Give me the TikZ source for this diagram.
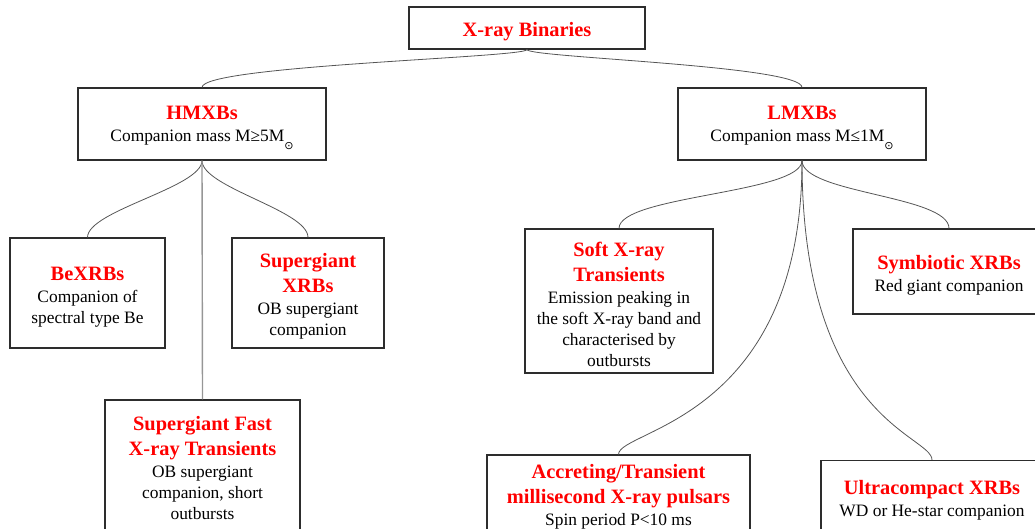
\documentclass[tikz,border=0pt]{standalone}
\usepackage{fontspec}
\setmainfont{Liberation Serif}
\newfontfamily\symfont{DejaVu Sans}
\definecolor{hred}{RGB}{255,0,0}
\definecolor{boxline}{RGB}{45,45,45}
\definecolor{curveline}{RGB}{85,85,85}
\definecolor{stemline}{RGB}{150,150,150}
\tikzset{
  box/.style={draw=boxline, line width=1.1pt, fill=white, inner sep=0pt, align=center,
    font=\fontsize{17.4}{21}\selectfont},
  link/.style={draw=curveline, line width=0.8pt},
  stem/.style={draw=stemline, line width=1.4pt},
}
\newcommand{\hd}[1]{{\fontsize{20.4}{25}\selectfont\bfseries\color{hred}#1}}
\newcommand{\tp}{\rule{0pt}{21.5pt}}
\newcommand{\msun}{\raisebox{-7.5pt}{\symfont\fontsize{11}{11}\selectfont ⊙}}
\begin{document}
\begin{tikzpicture}[x=1pt,y=-1pt]
\useasboundingbox (0,0) rectangle (1035,529);
\clip (0,0) rectangle (1035,529);

% nodes
\node[box, minimum width=236pt, minimum height=42pt] (root) at (527,28) {\tp\hd{X-ray Binaries}};
\node[box, minimum width=248pt, minimum height=72pt] (hm) at (202,124) {\tp\hd{HMXBs}\\[1pt]Companion mass M≥5M\msun};
\node[box, minimum width=248pt, minimum height=72pt] (lm) at (802,124) {\tp\hd{LMXBs}\\[1pt]Companion mass M≤1M\msun};

\node[box, minimum width=155pt, minimum height=110pt] (be) at (87.5,293) {\tp\hd{BeXRBs}\\[1pt]Companion of\\spectral type Be};
\node[box, minimum width=152pt, minimum height=110pt] (sg) at (308,293) {\tp\hd{Supergiant}\\[4pt]\hd{XRBs}\\[1pt]OB supergiant\\companion};
\node[box, minimum width=195pt, minimum height=136pt] (sfxt) at (202.5,468) {\hd{Supergiant Fast}\\[4pt]\hd{X-ray Transients}\\[1pt]OB supergiant\\companion, short\\outbursts};

\node[box, minimum width=188pt, minimum height=144pt] (soft) at (619,301) {\tp\hd{Soft X-ray}\\[4pt]\hd{Transients}\\[1pt]Emission peaking in\\the soft X-ray band and\\characterised by\\outbursts};
\node[box, minimum width=192pt, minimum height=85pt] (sym) at (949,271.5) {\tp\hd{Symbiotic XRBs}\\[1pt]Red giant companion};
\node[box, minimum width=263pt, minimum height=84pt] (acc) at (618.5,497) {\hd{Accreting/Transient}\\[4pt]\hd{millisecond X-ray pulsars}\\[1pt]Spin period P<10 ms};
\node[box, minimum width=222pt, minimum height=80pt] (uc) at (932,500.5) {\hd{Ultracompact XRBs}\\[1pt]WD or He-star companion};

% connectors
\draw[link] (root.south) .. controls +(0,8) and +(0,-22) .. (hm.north);
\draw[link] (root.south) .. controls +(0,8) and +(0,-22) .. (lm.north);

\draw[link] (hm.south) .. controls +(0,27) and +(0,-27) .. (be.north);
\draw[link] (hm.south) .. controls +(0,27) and +(0,-27) .. (sg.north);
\draw[stem] (hm.south) -- (sfxt.north);

\draw[link] (lm.south) .. controls +(0,33) and +(0,-33) .. (soft.north);
\draw[link] (lm.south) .. controls +(0,33) and +(0,-33) .. (sym.north);
\draw[link] (lm.south) .. controls +(0,260) and +(0,-25) .. (acc.north);
\draw[link] (lm.south) .. controls +(0,260) and +(0,-25) .. (uc.north);
\end{tikzpicture}
\end{document}
